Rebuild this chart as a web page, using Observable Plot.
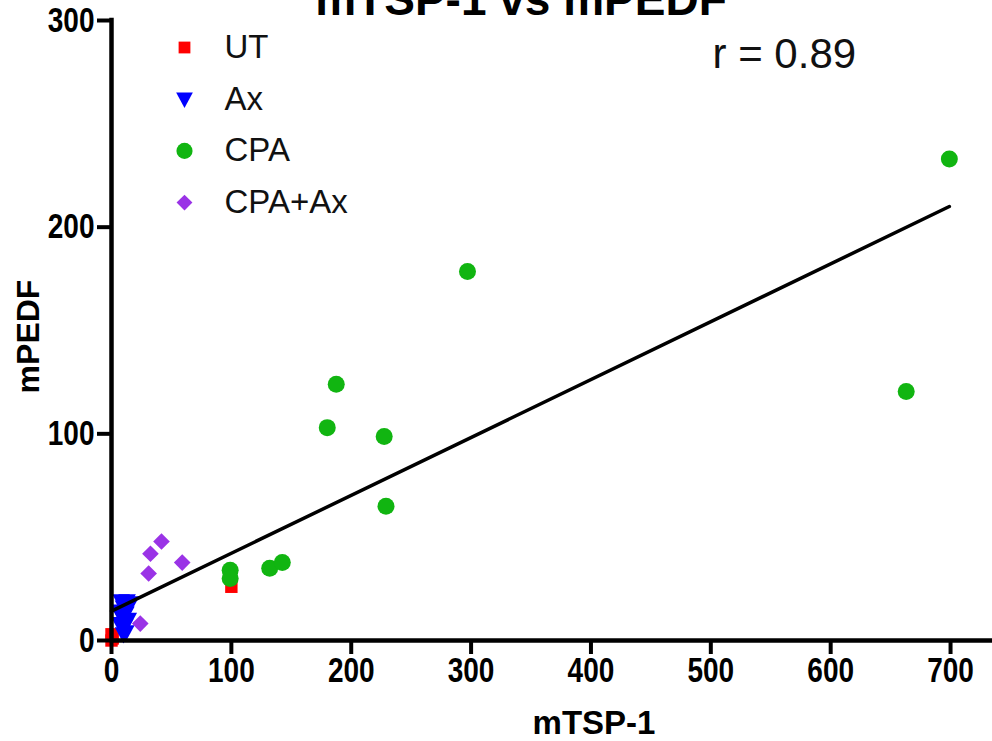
<!DOCTYPE html>
<html>
<head>
<meta charset="utf-8">
<script src="https://cdn.jsdelivr.net/npm/d3@7"></script>
<script src="https://cdn.jsdelivr.net/npm/@observablehq/plot@0.6"></script>
<style>
  html, body { margin: 0; padding: 0; background: white; }
  #chart { width: 992px; height: 741px; overflow: hidden; }
</style>
</head>
<body>
<div id="chart"></div>
<script>
// ---- data ----
const title = "mTSP-1 vs mPEDF";
const xLabel = "mTSP-1";
const yLabel = "mPEDF";
const rText = "r = 0.89";
const categories = ["UT", "Ax", "CPA", "CPA+Ax"];
const colors = ["#ff0000", "#0000ff", "#11b511", "#9a33e6"];

const utX = [0, 0, 1, 100];
const utY = [0, 3, 1, 26];

const axX = [8, 13, 16, 10, 6, 12, 9, 14, 7, 11, 12, 10];
const axY = [19, 19, 18, 16, 14, 13, 11, 10, 8, 7, 4, 3];

const cpaX = [699, 297, 663, 187.5, 180, 227.5, 229, 99, 99, 132, 142.5];
const cpaY = [233, 178.5, 120.5, 124, 103, 98.7, 65, 34, 30, 35, 37.7];

const cpaAxX = [41.7, 32.5, 31, 59, 24];
const cpaAxY = [47.9, 42, 32.4, 37.7, 8.2];

const xTicks = [0, 100, 200, 300, 400, 500, 600, 700];
const yTicks = [0, 100, 200, 300];

// ---- symbols ----
const triangleDown = {
  draw(context, size) {
    const h = Math.sqrt(size) * 0.62;
    context.moveTo(-h, -h * 0.8);
    context.lineTo(h, -h * 0.8);
    context.lineTo(0, h * 1.05);
    context.closePath();
  }
};
const symbols = ["square", triangleDown, "circle", "diamond2"];
const radii = [7, 8, 8.5, 7.5];

const seriesX = [utX, axX, cpaX, cpaAxX];
const seriesY = [utY, axY, cpaY, cpaAxY];

// combined table for regression
const all = [];
seriesX.forEach((xs, s) => xs.forEach((x, i) => all.push({x, y: seriesY[s][i]})));

const font = "'Liberation Sans', Arial, Helvetica, sans-serif";

const pointMarks = categories.map((c, s) =>
  Plot.dot(seriesX[s], {x: seriesX[s], y: seriesY[s], symbol: symbols[s], fill: colors[s], r: radii[s]})
);

const legendMarks = categories.flatMap((c, i) => [
  Plot.dot([c], {frameAnchor: "top-left", dx: 73, dy: 27 + i * 51.7, symbol: symbols[i], fill: colors[i], r: radii[i] * 0.95}),
  Plot.text([c], {frameAnchor: "top-left", dx: 113, dy: 27 + i * 51.7, text: d => d, textAnchor: "start", lineAnchor: "middle", fontSize: 33, fill: "#111"})
]);

const chart = Plot.plot({
  width: 992,
  height: 741,
  marginLeft: 111,
  marginRight: 0,
  marginTop: 20,
  marginBottom: 101,
  x: {domain: [0, 735]},
  y: {domain: [0, 300]},
  style: {fontFamily: font, background: "white", color: "black"},
  marks: [
    ...pointMarks,
    Plot.linearRegressionY(all, {x: "x", y: "y", ci: 0, stroke: "black", strokeWidth: 3.5}),
    Plot.ruleY([0], {stroke: "black", strokeWidth: 4.5}),
    Plot.ruleX([0], {stroke: "black", strokeWidth: 4.5, strokeLinecap: "square"}),
    Plot.axisX({ticks: xTicks, tickSize: 14, tickPadding: 3, strokeWidth: 4, fontSize: 35, fontWeight: "bold", label: null, tickFormat: d => d}),
    Plot.axisY({ticks: yTicks, tickSize: 14, tickPadding: 3, strokeWidth: 4, fontSize: 35, fontWeight: "bold", label: null, tickFormat: d => d}),
    ...legendMarks,
    Plot.text([rText], {frameAnchor: "top-left", dx: 601, dy: 47, text: d => d, textAnchor: "start", lineAnchor: "bottom", fontSize: 42, fill: "#111"}),
    Plot.text([title], {frameAnchor: "top", dx: -31, dy: -6, text: d => d, lineAnchor: "bottom", fontSize: 46, fontWeight: "bold"}),
    Plot.text([xLabel], {frameAnchor: "bottom", dx: 42, dy: 93, text: d => d, textAnchor: "middle", lineAnchor: "bottom", fontSize: 33, fontWeight: "bold"}),
    Plot.text([yLabel], {frameAnchor: "left", dx: -83, dy: 6, rotate: -90, text: d => d, textAnchor: "middle", lineAnchor: "middle", fontSize: 32, fontWeight: "bold"})
  ]
});
document.getElementById("chart").appendChild(chart);

// condense the tick labels (the reference uses a condensed bold face)
chart.querySelectorAll('g[aria-label="x-axis tick label"] text, g[aria-label="y-axis tick label"] text').forEach(t => {
  const w = t.getComputedTextLength();
  t.setAttribute("textLength", (w * 0.8).toFixed(1));
  t.setAttribute("lengthAdjust", "spacingAndGlyphs");
});
</script>
</body>
</html>
